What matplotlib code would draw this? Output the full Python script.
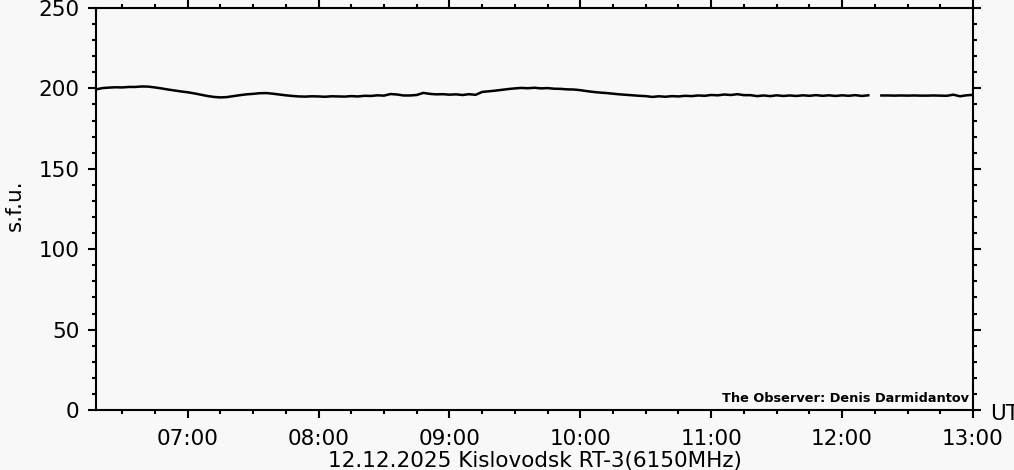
import numpy as np
import pandas as pd
import matplotlib
matplotlib.use("Agg")
import matplotlib.pyplot as plt
import matplotlib.dates as mdates
from matplotlib.ticker import MultipleLocator


# =========================
# DATA (3-minute steps)
# =========================

start_time = "2025-12-12 06:18"
end_time = "2025-12-12 13:00"

flux = [
    199.4, 200.2, 200.5, 200.7, 200.6, 200.9, 200.9, 201.2, 201.1, 200.6,
    200.0, 199.3, 198.7, 198.1, 197.6, 196.9, 196.1, 195.3, 194.7, 194.4,
    194.6, 195.2, 195.8, 196.3, 196.6, 197.0, 197.1, 196.7, 196.2, 195.7,
    195.3, 195.0, 194.9, 195.1, 195.0, 194.8, 195.1, 195.0, 194.9, 195.2,
    195.0, 195.4, 195.3, 195.7, 195.5, 196.5, 196.2, 195.6, 195.6, 195.9,
    197.2, 196.6, 196.3, 196.4, 196.1, 196.3, 195.9, 196.4, 196.0, 197.8,
    198.2, 198.6, 199.1, 199.6, 200.0, 200.3, 200.1, 200.4, 200.0, 200.2,
    199.8, 199.7, 199.4, 199.3, 198.9, 198.3, 197.8, 197.4, 197.1, 196.7,
    196.3, 196.0, 195.7, 195.4, 195.2, 194.7, 195.1, 194.8, 195.2, 195.0,
    195.4, 195.2, 195.6, 195.4, 195.9, 195.7, 196.2, 195.9, 196.4, 195.8,
    195.8, 195.2, 195.6, 195.2, 195.7, 195.3, 195.6, 195.3, 195.7, 195.4,
    195.8, 195.4, 195.7, 195.3, 195.7, 195.4, 195.8, 195.3, 195.7, np.nan,
    195.6, 195.6, 195.5, 195.6, 195.5, 195.6, 195.5, 195.5, 195.6, 195.5,
    195.4, 196.1, 195.1, 195.7, 196.0,
]

times = pd.date_range(start_time, end_time, freq="3min")

bg = "#f8f8f8"

fig = plt.figure(figsize=(10.14, 4.70), dpi=100, facecolor=bg)
ax = fig.add_axes([96 / 1014, 60 / 470, 877 / 1014, 402 / 470])
ax.set_facecolor(bg)

ax.plot(times, flux, color="black", linewidth=1.8)

ax.set_xlim(pd.Timestamp(start_time), pd.Timestamp(end_time))
ax.set_ylim(0, 250)

ax.xaxis.set_major_locator(mdates.HourLocator())
ax.xaxis.set_minor_locator(mdates.MinuteLocator(byminute=[0, 15, 30, 45]))
ax.xaxis.set_major_formatter(mdates.DateFormatter("%H:%M"))
ax.yaxis.set_major_locator(MultipleLocator(50))
ax.yaxis.set_minor_locator(MultipleLocator(10))

for side in ax.spines.values():
    side.set_linewidth(1.5)

ax.tick_params(which="both", direction="out", top=True, right=True,
               width=1.5, labelsize=15.5, color="black")
ax.tick_params(which="major", length=6)
ax.tick_params(which="minor", length=3)
ax.tick_params(axis="y", which="major", pad=6)
ax.tick_params(axis="x", which="major", pad=8)

# UT is cut by the right edge in the reference too
fig.text(990 / 1014, 1 - 414 / 470, "UT", fontsize=15.5, va="center", ha="left")
fig.text(535 / 1014, 1 - 461 / 470, "12.12.2025 Kislovodsk RT-3(6150MHz)",
         fontsize=15.5, ha="center", va="center")
fig.text(15 / 1014, 1 - 205 / 470, "s.f.u.", fontsize=15.5,
         rotation=90, ha="center", va="center")
fig.text(969 / 1014, 1 - 398 / 470, "The Observer: Denis Darmidantov",
         fontsize=9.3, fontweight="bold", ha="right", va="center")

plt.savefig("out.png", dpi=100, facecolor=bg)
